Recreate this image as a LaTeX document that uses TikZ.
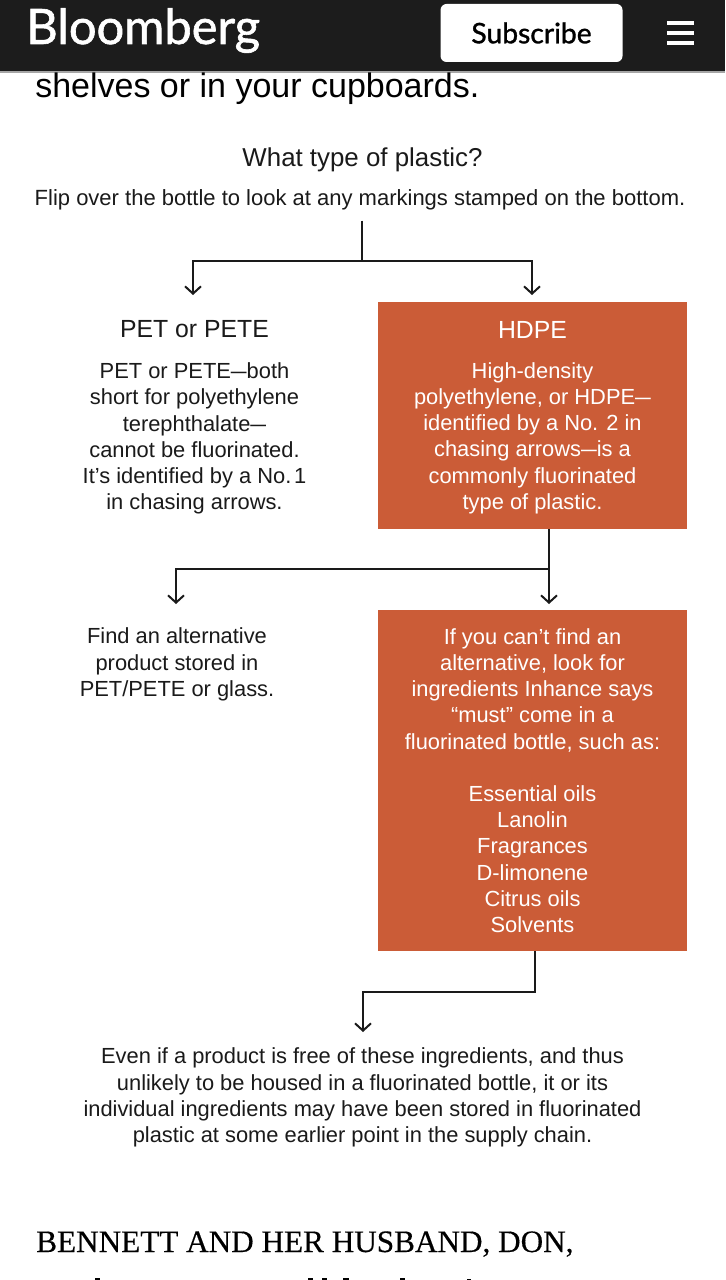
\documentclass[tikz,border=0pt]{standalone}
\usepackage{fontspec}
\usetikzlibrary{arrows.meta}
\setmainfont{Liberation Sans}
\newfontfamily\serifface[FakeBold=0.4]{Liberation Serif}
\newfontfamily\brandface[FakeBold=1.2]{Lato}
\newcommand{\shortdash}{\scalebox{0.72}[1]{—}}
\newcommand{\titlesize}{\fontsize{18.6pt}{22pt}\selectfont}
\definecolor{rust}{HTML}{CB5C37}
\definecolor{barblack}{HTML}{1C1C1C}
\definecolor{ink}{HTML}{1A1A1A}
\tikzset{
  x=0.75pt,y=-0.75pt,
  bodytext/.style={font=\fontsize{16.4pt}{19.65pt}\selectfont,text=ink,align=center,inner sep=0pt},
  rustbox/.style={bodytext,fill=rust,text=white,minimum width=231.75pt},
  link/.style={draw=ink,line width=1.5pt,line cap=butt},
  linkarrow/.style={link,-{Straight Barb[length=5.5pt,width=12pt,line width=1.5pt]}},
}
\begin{document}
\begin{tikzpicture}
\useasboundingbox (0,0) rectangle (725,1280);
\fill[white] (0,0) rectangle (725,1280);
% header bar
\fill[barblack] (0,0) rectangle (725,71);
\fill[gray!70] (0,71) rectangle (725,73);
\node[anchor=base west,inner sep=0pt,text=white,font=\brandface\fontsize{36.6pt}{36pt}\selectfont] (brand) at (26,44) {Bloomberg};
\node[fill=white,rounded corners=4.5pt,minimum width=136.5pt,minimum height=43.5pt,inner sep=0pt,font=\brandface\fontsize{21.2pt}{22pt}\selectfont,text=black] (subscribe) at (531.5,33) {Subscribe};
\fill[white] (667,21) rectangle (694,25);
\fill[white] (667,31) rectangle (694,35);
\fill[white] (667,41) rectangle (694,45);
% article text
\node[anchor=base west,inner sep=0pt,text=black,font=\fontsize{25.5pt}{30pt}\selectfont] (lead) at (35,98) {shelves or in your cupboards.};
\node[anchor=base west,inner sep=0pt,text=black,font=\serifface\fontsize{23.4pt}{28pt}\selectfont] (bennett) at (36,1252) {BENNETT AND HER HUSBAND, DON,};
% tops of the next, cut-off line
\fill[black] (95,1278) rectangle (100,1280);
\fill[black] (308,1278) rectangle (313,1280);
\fill[black] (322,1278) rectangle (327,1280);
\fill[black] (343,1278) rectangle (349,1280);
\fill[black] (400,1278) rectangle (405,1280);
\fill[black] (467,1278.5) rectangle (471,1280);
% chart text
\node[bodytext,font=\fontsize{19.4pt}{22pt}\selectfont] (question) at (362.5,159.5) {What type of plastic?};
\node[bodytext,font=\fontsize{16.5pt}{19.65pt}\selectfont] (flip) at (360,200) {Flip over the bottle to look at any markings stamped on the bottom.};
\node[bodytext] (pet) at (194.5,417.5) {{\titlesize PET or PETE}\\[11pt]
PET or PETE\shortdash both\\short for polyethylene\\terephthalate\shortdash \\cannot be fluorinated.\\It’s identified by a No.\kern-2.5pt\ 1\\in chasing arrows.};
\node[rustbox,minimum height=170.25pt] (hdpe) at (532.5,415.5) {\rule{0pt}{15.8pt}{\titlesize HDPE}\\[10.25pt]
High-density\\polyethylene, or HDPE\shortdash \\identified by a No. 2 in\\chasing arrows\shortdash is a\\commonly fluorinated\\type of plastic.};
\node[bodytext] (alt) at (177,664.5) {Find an alternative\\product stored in\\PET/PETE or glass.};
\node[rustbox,minimum height=255.75pt] (ingredients) at (532.5,780.5) {If you can’t find an\\alternative, look for\\ingredients Inhance says\\“must” come in a\\fluorinated bottle, such as:\\[19.65pt]
Essential oils\\Lanolin\\Fragrances\\D-limonene\\Citrus oils\\Solvents};
\node[bodytext] (supply) at (362.5,1097.5) {Even if a product is free of these ingredients, and thus\\unlikely to be housed in a fluorinated bottle, it or its\\individual ingredients may have been stored in fluorinated\\plastic at some earlier point in the supply chain.};
% connectors
\coordinate (fork1) at (362,261);
\coordinate (fork1l) at (193,261);
\coordinate (fork1r) at (532,261);
\coordinate (tip1l) at (193,295);
\coordinate (tip1r) at (532,295);
\coordinate (fork2r) at (549,569);
\coordinate (fork2l) at (176,569);
\coordinate (tip2l) at (176,604);
\coordinate (tip2r) at (549,604);
\coordinate (fork3r) at (535,992);
\coordinate (fork3l) at (363,992);
\coordinate (tip3) at (363,1032);
\draw[link] (flip.south -| fork1) ++(0,10) -- (fork1);
\draw[linkarrow] (fork1) -- (fork1l) -- (tip1l);
\draw[linkarrow] (fork1) -- (fork1r) -- (tip1r);
\draw[linkarrow] (hdpe.south -| fork2r) -- (tip2r);
\draw[linkarrow] (fork2r) -- (fork2l) -- (tip2l);
\draw[linkarrow] (ingredients.south -| fork3r) -- (fork3r) -- (fork3l) -- (tip3);
\end{tikzpicture}
\end{document}
